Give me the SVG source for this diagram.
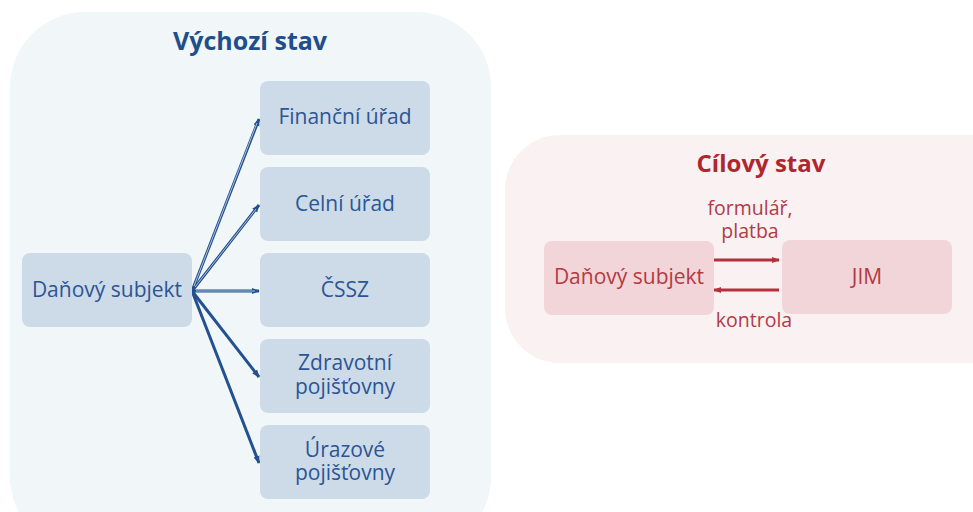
<svg xmlns="http://www.w3.org/2000/svg" width="973" height="512" viewBox="0 0 973 512">
<defs>
<style>
.panelL{fill:#f1f6f9}
.panelR{fill:#f9f1f2}
.bnode{fill:#cddbe9}
.rnode{fill:#f2d5d8}
.t{font-family:"Open Sans","Noto Sans","Liberation Sans",sans-serif;font-size:21px;text-anchor:middle}
.lbl{font-size:19.5px}
.bt{fill:#2b5594}
.rt{fill:#b33a45}
.title{font-family:"Open Sans","Noto Sans","Liberation Sans",sans-serif;font-weight:bold;text-anchor:middle}
.bl{stroke:#23508f;stroke-width:3;fill:none}
.inner{stroke:#cfdcea;stroke-width:0.8;fill:none}
.rl{stroke:#b3313c;stroke-width:3;fill:none}
</style>
<marker id="ab" viewBox="0 0 10 10" refX="9" refY="5" markerWidth="2.6" markerHeight="2.6" orient="auto"><path d="M0,1 L10,5 L0,9 z" fill="#23508f"/></marker>
<marker id="ar" viewBox="0 0 10 10" refX="9" refY="5" markerWidth="2.6" markerHeight="2.6" orient="auto"><path d="M0,1 L10,5 L0,9 z" fill="#b3313c"/></marker>
</defs>
<rect width="973" height="512" fill="#ffffff"/>
<rect class="panelL" x="10" y="12" width="481" height="540" rx="75"/>
<rect class="panelR" x="505" y="135" width="520" height="228" rx="55"/>
<text class="title" x="250" y="50" font-size="25" fill="#1f4e8c">Výchozí stav</text>
<text class="title" x="761" y="172" font-size="24" fill="#b0262f">Cílový stav</text>
<g id="connectors">
<line class="bl" x1="192" y1="291" x2="259" y2="119" marker-end="url(#ab)"/>
<line class="bl" x1="192" y1="291" x2="259" y2="205" marker-end="url(#ab)"/>
<line class="bl" x1="192" y1="291" x2="259" y2="291" marker-end="url(#ab)"/>
<line class="bl" x1="192" y1="291" x2="259" y2="377" marker-end="url(#ab)"/>
<line class="bl" x1="192" y1="291" x2="259" y2="463" marker-end="url(#ab)"/>
<line class="inner" x1="194" y1="286" x2="257" y2="123"/>
<line class="inner" x1="195" y1="287" x2="256" y2="209"/>
<line class="inner" x1="196" y1="291" x2="255" y2="291"/>
<line class="rl" x1="713" y1="260" x2="779" y2="260" marker-end="url(#ar)"/>
<line class="rl" x1="779" y1="290" x2="714" y2="290" marker-end="url(#ar)"/>
</g>
<g id="dan-subj-l"><rect class="bnode" x="22" y="253" width="170" height="74" rx="8"/><text class="t bt" x="107" y="297">Daňový subjekt</text></g>
<g id="fu"><rect class="bnode" x="260" y="81" width="170" height="74" rx="8"/><text class="t bt" x="345" y="124">Finanční úřad</text></g>
<g id="cu"><rect class="bnode" x="260" y="167" width="170" height="74" rx="8"/><text class="t bt" x="345" y="211">Celní úřad</text></g>
<g id="cssz"><rect class="bnode" x="260" y="253" width="170" height="74" rx="8"/><text class="t bt" x="345" y="297">ČSSZ</text></g>
<g id="zp"><rect class="bnode" x="260" y="339" width="170" height="74" rx="8"/><text class="t bt" x="345" y="370">Zdravotní</text><text class="t bt" x="345" y="394">pojišťovny</text></g>
<g id="up"><rect class="bnode" x="260" y="425" width="170" height="74" rx="8"/><text class="t bt" x="345" y="457">Úrazové</text><text class="t bt" x="345" y="480">pojišťovny</text></g>
<g id="dan-subj-r"><rect class="rnode" x="544" y="241" width="170" height="74" rx="8"/><text class="t rt" x="629" y="284">Daňový subjekt</text></g>
<g id="jim"><rect class="rnode" x="782" y="240" width="170" height="74" rx="8"/><text class="t rt" x="867" y="284">JIM</text></g>
<text class="t lbl rt" x="750" y="215">formulář,</text>
<text class="t lbl rt" x="750" y="238">platba</text>
<text class="t lbl rt" x="754" y="327">kontrola</text>
</svg>
